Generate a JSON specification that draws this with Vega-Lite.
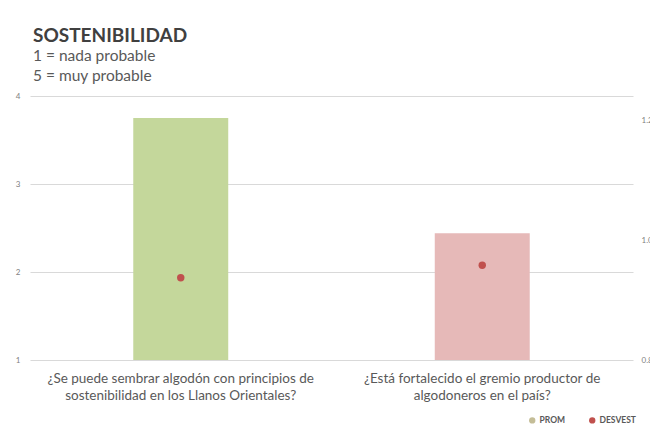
{
  "$schema": "https://vega.github.io/schema/vega-lite/v6.json",
  "width": 603,
  "height": 264,
  "autosize": {"type": "none"},
  "padding": {"left": 30, "top": 96, "right": 17, "bottom": 73},
  "background": "white",
  "config": {"view": {"stroke": null}, "font": "Lato"},
  "title": {
    "text": "SOSTENIBILIDAD",
    "subtitle": ["1 = nada probable", "5 = muy probable"],
    "anchor": "start",
    "frame": "group",
    "fontSize": 19,
    "fontWeight": "bold",
    "color": "#404040",
    "subtitleFontSize": 15.5,
    "subtitleColor": "#595959",
    "subtitleLineHeight": 20,
    "subtitlePadding": 3,
    "offset": 8,
    "dx": 3
  },
  "data": {
    "values": [
      {"pregunta": "¿Se puede sembrar algodón con principios de|sostenibilidad en los Llanos Orientales?", "prom": 3.75, "desvest": 0.937},
      {"pregunta": "¿Está fortalecido el gremio productor de|algodoneros en el país?", "prom": 2.44, "desvest": 0.958}
    ]
  },
  "encoding": {
    "x": {
      "field": "pregunta",
      "type": "nominal",
      "sort": null,
      "scale": {"paddingInner": 0.685, "paddingOuter": 0.3425},
      "axis": {
        "title": null,
        "labelAngle": 0,
        "labelExpr": "split(datum.label, '|')",
        "domain": false,
        "ticks": false,
        "labelFontSize": 13.5,
        "labelColor": "#595959",
        "labelPadding": 11,
        "labelLineHeight": 17,
        "labelLimit": 0
      }
    }
  },
  "layer": [
    {
      "mark": {"type": "bar"},
      "encoding": {
        "y": {
          "field": "prom",
          "type": "quantitative",
          "scale": {"domain": [1, 4], "nice": false, "zero": false},
          "axis": {
            "title": null,
            "values": [1, 2, 3, 4],
            "domain": false,
            "ticks": false,
            "labelFontSize": 8,
            "labelColor": "#7f7f7f",
            "labelPadding": 10,
            "gridColor": "#d9d9d9"
          }
        },
        "y2": {"datum": 1},
        "fill": {
          "field": "pregunta",
          "type": "nominal",
          "sort": null,
          "scale": {"range": ["#C4D79B", "#E6B9B8"]},
          "legend": null
        }
      }
    },
    {
      "mark": {"type": "point", "filled": true, "size": 55, "opacity": 1},
      "encoding": {
        "y": {
          "field": "desvest",
          "type": "quantitative",
          "scale": {"domain": [0.8, 1.24], "nice": false, "zero": false},
          "axis": {
            "orient": "right",
            "title": null,
            "values": [0.8, 1.0, 1.2],
            "format": ".1f",
            "grid": false,
            "domain": false,
            "ticks": false,
            "labelFontSize": 8,
            "labelColor": "#7f7f7f",
            "labelPadding": 8
          }
        },
        "color": {
          "datum": "DESVEST",
          "type": "nominal",
          "scale": {"domain": ["PROM", "DESVEST"], "range": ["#C4BD97", "#C0504D"]},
          "legend": {
            "title": null,
            "orient": "none",
            "legendX": 498,
            "legendY": 320,
            "direction": "horizontal",
            "labelFontSize": 8.5,
            "labelFontWeight": "bold",
            "labelColor": "#595959",
            "symbolSize": 40,
            "labelOffset": 3,
            "columnPadding": 22,
            "encode": {
              "symbols": {
                "update": {
                  "shape": {"signal": "datum.value == 'PROM' ? 'square' : 'circle'"},
                  "strokeWidth": {"value": 0}
                }
              }
            }
          }
        }
      }
    }
  ],
  "resolve": {"scale": {"y": "independent"}}
}
